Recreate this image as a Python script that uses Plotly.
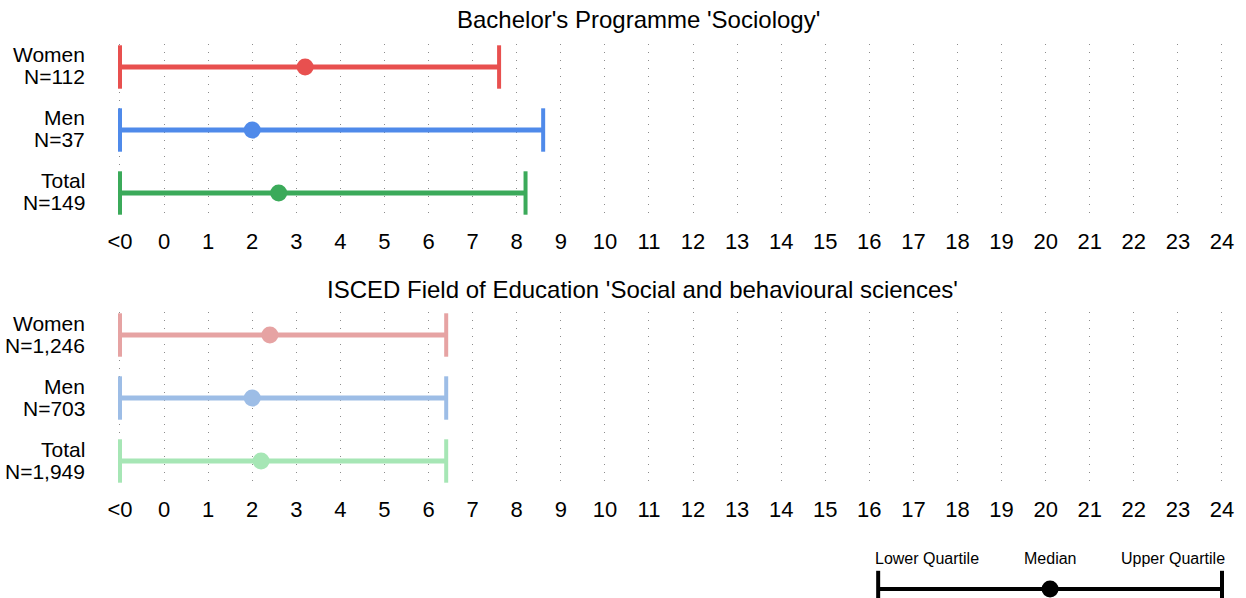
import plotly.graph_objects as go

# ---------------- data ----------------
groups = ["Total", "Men", "Women"]
top_n = ["149", "37", "112"]
top_lower = [-1, -1, -1]
top_median = [2.6, 2.0, 3.2]
top_upper = [8.2, 8.6, 7.6]

bot_n = ["1,949", "703", "1,246"]
bot_lower = [-1, -1, -1]
bot_median = [2.2, 2.0, 2.4]
bot_upper = [6.4, 6.4, 6.4]

tick_vals = list(range(-1, 25))
tick_text = ["<0"] + [str(i) for i in range(0, 25)]

top_title = "Bachelor's Programme 'Sociology'"
bot_title = "ISCED Field of Education 'Social and behavioural sciences'"

top_colors = ["#3BAA5A", "#4F8AEA", "#E8504F"]
bot_colors = ["#A6E6B5", "#9DBDE6", "#E6A3A3"]

legend_pos = [16.2, 20.1, 24.0]
legend_labels = ["Lower Quartile", "Median", "Upper Quartile"]

# ---------------- layout geometry ----------------
W, H = 1246, 598
FONT = "Liberation Sans, Arial, sans-serif"


def px(x):
    return x / W


def py(y):
    return (H - y) / H


xr = [-1.3, 24.3]
ppu = (1222 - 120) / 25.0
x0 = px(120 - 0.3 * ppu)
x1 = px(1222 + 0.3 * ppu)

fig = go.Figure()


def add_panel(xa, ya, lower, median, upper, colors):
    for i in range(3):
        c = colors[i]
        fig.add_trace(go.Scatter(
            x=[lower[i], upper[i]], y=[i, i], mode="lines+markers",
            line=dict(color=c, width=5),
            marker=dict(symbol="line-ns", size=31, line=dict(color=c, width=4)),
            xaxis=xa, yaxis=ya, hoverinfo="skip", showlegend=False, cliponaxis=False))
        fig.add_trace(go.Scatter(
            x=[median[i]], y=[i], mode="markers",
            marker=dict(symbol="circle", size=17, color=c),
            xaxis=xa, yaxis=ya, hoverinfo="skip", showlegend=False, cliponaxis=False))


add_panel("x", "y", top_lower, top_median, top_upper, top_colors)
add_panel("x2", "y2", bot_lower, bot_median, bot_upper, bot_colors)

# legend key
fig.add_trace(go.Scatter(
    x=[legend_pos[0], legend_pos[2]], y=[0, 0], mode="lines+markers",
    line=dict(color="black", width=4),
    marker=dict(symbol="line-ns", size=26, line=dict(color="black", width=4)),
    xaxis="x3", yaxis="y3", hoverinfo="skip", showlegend=False, cliponaxis=False))
fig.add_trace(go.Scatter(
    x=[legend_pos[1]], y=[0], mode="markers",
    marker=dict(symbol="circle", size=17, color="black"),
    xaxis="x3", yaxis="y3", hoverinfo="skip", showlegend=False, cliponaxis=False))

xcommon = dict(range=xr, domain=[x0, x1], tickvals=tick_vals, ticktext=tick_text,
               showgrid=True, gridcolor="#8c8c8c", gridwidth=1, griddash="1.2px,6.8px",
               zeroline=False, showline=False, ticks="outside", ticklen=6,
               tickcolor="rgba(0,0,0,0)", tickfont=dict(size=22, color="black", family=FONT),
               fixedrange=True)
ycommon = dict(range=[-0.365, 2.365], tickvals=[0, 1, 2], showgrid=False, zeroline=False,
               showline=False, showticklabels=False, fixedrange=True)

annotations = [
    dict(text=top_title, x=px(638), y=py(20), xref="paper", yref="paper",
         showarrow=False, font=dict(size=24), xanchor="center", yanchor="middle"),
    dict(text=bot_title, x=px(642), y=py(289), xref="paper", yref="paper",
         showarrow=False, font=dict(size=24), xanchor="center", yanchor="middle"),
    dict(text=legend_labels[0], x=legend_pos[0], y=0.5167, xref="x3", yref="y3",
         showarrow=False, font=dict(size=16), xanchor="left", yanchor="middle", xshift=-5),
    dict(text=legend_labels[1], x=legend_pos[1], y=0.5167, xref="x3", yref="y3",
         showarrow=False, font=dict(size=16), xanchor="center", yanchor="middle"),
    dict(text=legend_labels[2], x=legend_pos[2], y=0.5167, xref="x3", yref="y3",
         showarrow=False, font=dict(size=16), xanchor="right", yanchor="middle", xshift=5),
]

for yref, ns in (("y", top_n), ("y2", bot_n)):
    for i, (g, n) in enumerate(zip(groups, ns)):
        annotations.append(dict(text=g, x=px(87), y=i, xref="paper", yref=yref,
                                showarrow=False, font=dict(size=21), xanchor="right",
                                yanchor="middle", yshift=12))
        annotations.append(dict(text=f"N={n}", x=px(87), y=i, xref="paper", yref=yref,
                                showarrow=False, font=dict(size=21), xanchor="right",
                                yanchor="middle", yshift=-10))

fig.update_layout(
    width=W, height=H, margin=dict(l=0, r=0, t=0, b=0),
    paper_bgcolor="white", plot_bgcolor="white",
    font=dict(family=FONT, color="black"),
    xaxis=dict(**xcommon, anchor="y"),
    yaxis=dict(**ycommon, domain=[py(216), py(44)], anchor="x"),
    xaxis2=dict(**xcommon, anchor="y2"),
    yaxis2=dict(**ycommon, domain=[py(484), py(312)], anchor="x2"),
    xaxis3=dict(range=xr, domain=[x0, x1], visible=False, anchor="y3", fixedrange=True),
    yaxis3=dict(range=[-0.15, 0.85], domain=[0, 60 / H], visible=False, anchor="x3",
                fixedrange=True),
    annotations=annotations,
)

# remove the browser's default page margin so the figure fills the window exactly
fig.write_html("out.html", config={"displayModeBar": False},
               post_script="document.body.style.margin='0px';")
